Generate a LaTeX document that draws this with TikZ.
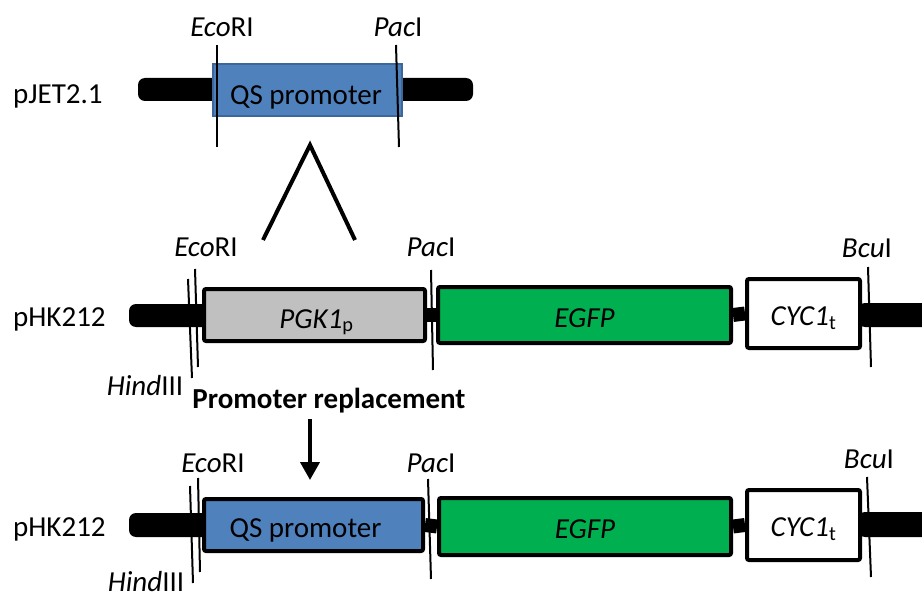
\documentclass[tikz,border=0pt]{standalone}
\usepackage{fontspec}
\setmainfont{Carlito}
\usetikzlibrary{arrows.meta}
\definecolor{qsblue}{HTML}{4F81BD}
\definecolor{qsedge}{HTML}{3D6699}
\definecolor{ggray}{HTML}{C0C0C0}
\definecolor{ggreen}{HTML}{00B050}
\begin{document}
\begin{tikzpicture}[x=1pt,y=-1pt,
  lbl/.style={font=\fontsize{29}{34}\selectfont, inner sep=0pt, anchor=base},
  gene/.style={draw=black, line width=4pt, rounded corners=2pt, inner sep=0pt},
  bar/.style={fill=black, rounded corners=7pt},
  link/.style={line width=14pt},
  site/.style={line width=2pt},
  caret/.style={line width=4pt, line join=miter},
  arr/.style={line width=4pt, -{Triangle[width=19pt,length=18pt]}}]
\useasboundingbox (0,0) rectangle (922,599);

% ---------------- top row: pJET2.1 ----------------
\node[lbl, anchor=base west] (pjet) at (13,104) {pJET2.1};
\fill[bar] (138,78) rectangle (220,101);
\fill[bar] (395,78) rectangle (473,101);
\node[draw=qsedge, fill=qsblue, line width=2pt, inner sep=0pt,
      minimum width=189pt, minimum height=52pt] (qstop) at (307.5,90) {};
\node[lbl] (qstopt) at ([xshift=-1.5pt,yshift=-15pt]qstop.center) {QS promoter};
\draw[site] (217,45) -- (217,147);
\draw[site] (396,45) -- (399,147);
\node[lbl] (ecotop) at (222,37) {\textit{Eco}RI};
\node[lbl] (pactop) at (398,37) {\textit{Pac}I};

% insertion caret
\coordinate (cl) at (263,240);
\coordinate (ca) at (310,145);
\coordinate (cr) at (355,240);
\draw[caret] (cl) -- (ca) -- (cr);

% ---------------- middle row: pHK212 ----------------
\node[lbl, anchor=base west] (phk1) at (13,326) {pHK212};
\fill[bar] (129,304) rectangle (210,327);
\fill[bar] (858,303) rectangle (945,327);
\node[gene, fill=ggray, minimum width=221pt, minimum height=52pt] (pgk) at (314.5,315) {};
\node[gene, fill=ggreen, minimum width=293pt, minimum height=56pt] (egfp1) at (584.5,315) {};
\node[gene, fill=white, minimum width=113pt, minimum height=69pt] (cyc1) at (803.5,313.5) {};
\draw[link] (pgk.east) -- (egfp1.west);
\draw[link] (egfp1.east) -- (cyc1.west);
\node[lbl] (pgkt) at ([xshift=2pt,yshift=-13pt]pgk.center) {\textit{PGK1}\textsubscript{p}};
\node[lbl] (egfpt1) at ([yshift=-12pt]egfp1.center) {\textit{EGFP}};
\node[lbl] (cyct1) at ([yshift=-11.5pt]cyc1.center) {\textit{CYC1}\textsubscript{t}};
\draw[site] (188,279) -- (192,378);
\draw[site] (195,269) -- (198,367);
\draw[site] (431,270) -- (433,370);
\draw[site] (868,267) -- (871,367);
\node[lbl] (eco1) at (206,257) {\textit{Eco}RI};
\node[lbl] (pac1) at (431,257) {\textit{Pac}I};
\node[lbl] (bcu1) at (867,258) {\textit{Bcu}I};
\node[lbl] (hind1) at (145,395) {\textit{Hind}III};

% ---------------- replacement ----------------
\node[lbl, font=\fontsize{29}{34}\selectfont\bfseries] (repl) at (329,408) {Promoter replacement};
\coordinate (arrtop) at (310,419);
\coordinate (arrbot) at (310,480);
\draw[arr] (arrtop) -- (arrbot);

% ---------------- bottom row: pHK212 ----------------
\node[lbl, anchor=base west] (phk2) at (13,536) {pHK212};
\fill[bar] (129,513) rectangle (210,537);
\fill[bar] (858,512) rectangle (945,537);
\node[gene, fill=qsblue, minimum width=219pt, minimum height=52pt] (qs2) at (313.5,525) {};
\node[gene, fill=ggreen, minimum width=292pt, minimum height=57pt] (egfp2) at (585,526.5) {};
\node[gene, fill=white, minimum width=113pt, minimum height=70pt] (cyc2) at (803.5,525) {};
\draw[link] (qs2.east) -- (egfp2.west);
\draw[link] (egfp2.east) -- (cyc2.west);
\node[lbl] (qs2t) at ([xshift=-8pt,yshift=-12pt]qs2.center) {QS promoter};
\node[lbl] (egfpt2) at ([yshift=-12pt]egfp2.center) {\textit{EGFP}};
\node[lbl] (cyct2) at ([yshift=-11.5pt]cyc2.center) {\textit{CYC1}\textsubscript{t}};
\draw[site] (190,486) -- (193,583);
\draw[site] (198,478) -- (200,572);
\draw[site] (428,479) -- (431,579);
\draw[site] (867,477) -- (871,577);
\node[lbl] (eco2) at (213,472) {\textit{Eco}RI};
\node[lbl] (pac2) at (431,472) {\textit{Pac}I};
\node[lbl] (bcu2) at (869,468) {\textit{Bcu}I};
\node[lbl] (hind2) at (146,591) {\textit{Hind}III};
\end{tikzpicture}
\end{document}
